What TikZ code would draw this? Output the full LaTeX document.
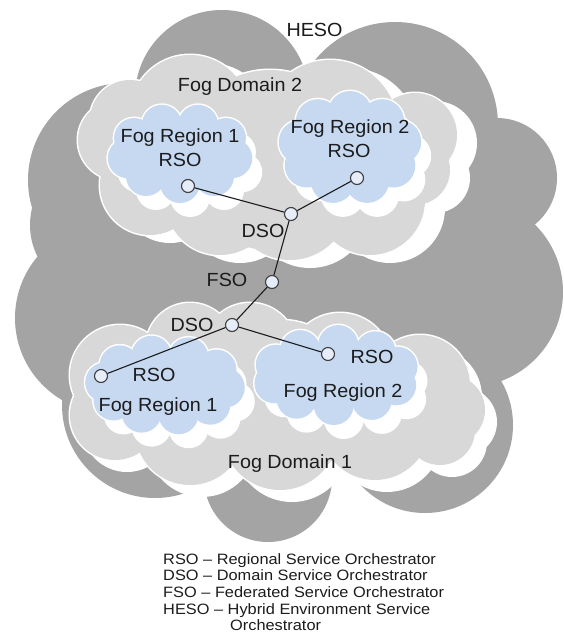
\documentclass[tikz,border=0pt]{standalone}
\usepackage{fontspec}
\setmainfont{Liberation Sans}
\definecolor{hesoc}{RGB}{164,164,164}
\definecolor{domc}{RGB}{216,216,216}
\definecolor{regc}{RGB}{198,217,240}
\definecolor{orchc}{RGB}{230,237,248}
\definecolor{ink}{RGB}{28,28,30}
% list (macro) of circles x/y/r
\newcommand\blobs[2]{\foreach \bx/\by/\br in #2{\path[#1] (\bx,\by) circle[radius=\br pt];}}
% elliptical cloud of puffs: cx cy a b N r phase style
\newcommand\puffs[8]{%
  \pgfmathsetmacro\pa{#3-#6}\pgfmathsetmacro\pb{#4-#6}%
  \foreach \k in {1,...,#5}{\pgfmathsetmacro\ang{#7+360*\k/#5}%
    \path[#8] ({#1+\pa*cos(\ang)},{#2+\pb*sin(\ang)}) circle[radius=#6 pt];}%
  \path[#8] (#1,#2) ellipse[x radius=\pa pt, y radius=\pb pt];}
\newcommand\regcloud[7]{% cx cy a b N r phase : shadow, outline, fill
  \begin{scope}[shift={(10,14)}]\puffs{#1}{#2}{#3}{#4}{#5}{#6}{#7}{shadowf}\end{scope}
  \puffs{#1}{#2}{#3}{#4}{#5}{#6}{#7}{outl}
  \puffs{#1}{#2}{#3}{#4}{#5}{#6}{#7}{regf}}
\tikzset{
  hesof/.style={fill=hesoc},
  domf/.style={fill=domc},
  regf/.style={fill=regc},
  shadowf/.style={fill=white},
  outl/.style={draw=white, line width=3pt},
  orch/.style={circle, draw=ink!85, fill=orchc, line width=1.1pt, minimum size=13pt, inner sep=0pt},
  conn/.style={draw=ink, line width=1.1pt},
  lab/.style={font=\fontsize{19}{22}\selectfont, text=ink, inner sep=0pt, anchor=base, xscale=1.04},
  leg/.style={font=\fontsize{15}{18}\selectfont, text=ink, inner sep=0pt, anchor=base west, xscale=1.09}
}
\def\hesolist{222/97/87, 395/125/103, 497/178/60, 468/292/95, 425/425/88, 268/478/64, 155/405/93, 110/318/95, 100/225/70, 125/180/97, 290/280/170}
\def\domtwo{190/115/60, 330/128/68, 415/135/42, 415/170/35, 118/140/40, 130/120/40, 150/185/50, 220/200/55, 290/200/60, 370/200/55, 270/160/90}
\def\domone{190/347/44, 250/350/47, 340/365/52, 420/385/50, 450/410/35, 120/375/50, 115/415/45, 190/430/55, 280/432/58, 375/425/55, 440/430/35, 280/400/80}
\begin{document}
\begin{tikzpicture}[x=1pt, y=-1pt]
\fill[white] (0,0) rectangle (564,642);
\useasboundingbox (0,0) rectangle (564,642);
% HESO cloud
\blobs{hesof}{\hesolist}
% Fog Domain 2
\begin{scope}[shift={(20,8)}]\blobs{shadowf}{\domtwo}\end{scope}
\blobs{outl}{\domtwo}
\blobs{domf}{\domtwo}
% Fog Domain 1
\begin{scope}[shift={(12,12)}]\blobs{shadowf}{\domone}\end{scope}
\blobs{outl}{\domone}
\blobs{domf}{\domone}
% Fog regions
\regcloud{180}{153}{73}{50}{9}{20}{10}
\regcloud{350}{148}{72}{57}{9}{22}{30}
\regcloud{165}{385}{80}{50}{10}{20}{5}
\regcloud{336}{375}{84}{50}{10}{20}{20}
% orchestrators
\node[orch] (r1t) at (188,186) {};
\node[orch] (r2t) at (357,178) {};
\node[orch] (d2) at (291,214) {};
\node[orch] (f) at (272,282) {};
\node[orch] (d1) at (232,325) {};
\node[orch] (r1b) at (101,376) {};
\node[orch] (r2b) at (328,354) {};
\draw[conn] (r1t) -- (d2);
\draw[conn] (r2t) -- (d2);
\draw[conn] (d2) -- (f);
\draw[conn] (f) -- (d1);
\draw[conn] (d1) -- (r1b);
\draw[conn] (d1) -- (r2b);
% labels
\node[lab] (lheso) at (314.5,37) {HESO};
\node[lab] (ldom2) at (240,91) {Fog Domain 2};
\node[lab] (lr1t) at (180,142) {Fog Region 1};
\node[lab] (lr1ts) at (180,166) {RSO};
\node[lab] (lr2t) at (350,133) {Fog Region 2};
\node[lab] (lr2ts) at (349,157) {RSO};
\node[lab] (ld2) at (263,237) {DSO};
\node[lab] (lf) at (227,286) {FSO};
\node[lab] (ld1) at (192,331) {DSO};
\node[lab] (lr1bs) at (154,381) {RSO};
\node[lab] (lr1b) at (158,411) {Fog Region 1};
\node[lab] (lr2bs) at (372,363) {RSO};
\node[lab] (lr2b) at (343,397) {Fog Region 2};
\node[lab] (ldom1) at (290,468) {Fog Domain 1};
% legend
\node[leg] (g1) at (163,564) {RSO – Regional Service Orchestrator};
\node[leg] (g2) at (163,580) {DSO – Domain Service Orchestrator};
\node[leg] (g3) at (163,597) {FSO – Federated Service Orchestrator};
\node[leg] (g4) at (163,614) {HESO – Hybrid Environment Service};
\node[leg] (g5) at (230,630) {Orchestrator};
\end{tikzpicture}
\end{document}
